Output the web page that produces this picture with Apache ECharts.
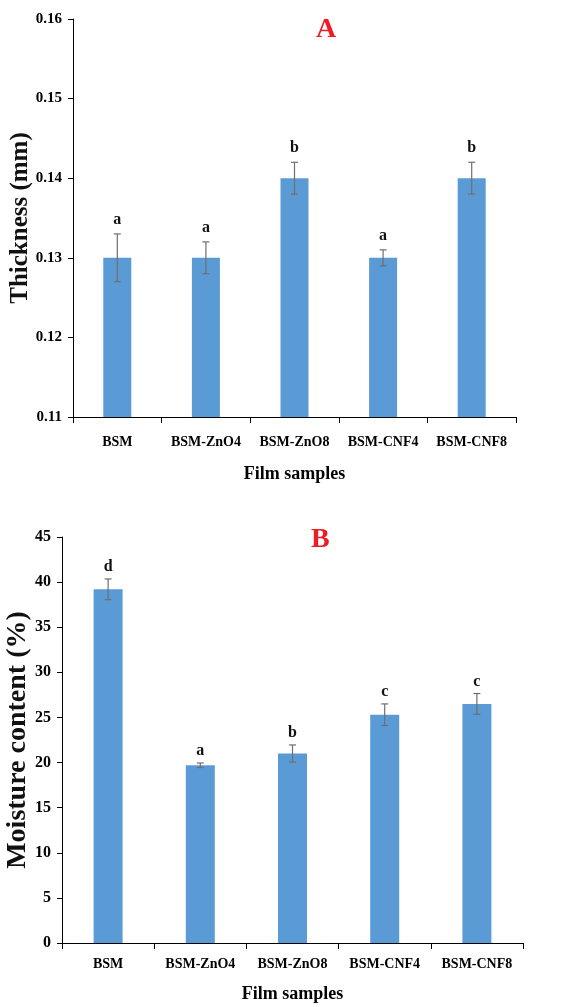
<!DOCTYPE html>
<html>
<head>
<meta charset="utf-8">
<script src="https://cdn.jsdelivr.net/npm/echarts@6/dist/echarts.min.js"></script>
<style>
html,body{margin:0;padding:0;background:#fff;}
#chart{width:585px;height:1007px;}
</style>
</head>
<body>
<div id="chart"></div>
<script>
const categories = ['BSM', 'BSM-ZnO4', 'BSM-ZnO8', 'BSM-CNF4', 'BSM-CNF8'];
const thickness = [0.130, 0.130, 0.140, 0.130, 0.140];
const thicknessErr = [0.003, 0.002, 0.002, 0.001, 0.002];
const thicknessLetters = ['a', 'a', 'b', 'a', 'b'];
const moisture = [39.2, 19.7, 21.0, 25.3, 26.5];
const moistureErr = [1.15, 0.25, 0.95, 1.2, 1.15];
const moistureLetters = ['d', 'a', 'b', 'c', 'c'];

const FONT = '"Liberation Serif", "Times New Roman", serif';
const BAR = '#5B9BD5';

function errSeries(gridIdx, vals, errs, letters, fontSize, gap) {
  return {
    type: 'custom',
    xAxisIndex: gridIdx,
    yAxisIndex: gridIdx,
    z: 5,
    encode: { x: 0, y: 1 },
    data: vals.map((v, i) => [i, v, errs[i]]),
    renderItem: function (params, api) {
      const x = api.value(0), v = api.value(1), e = api.value(2);
      const hi = api.coord([x, v + e]);
      const lo = api.coord([x, v - e]);
      const w = 3.5;
      const st = { stroke: '#6f6f6f', lineWidth: 1.2 };
      return {
        type: 'group',
        children: [
          { type: 'line', shape: { x1: hi[0], y1: hi[1], x2: lo[0], y2: lo[1] }, style: st },
          { type: 'line', shape: { x1: hi[0] - w, y1: hi[1], x2: hi[0] + w, y2: hi[1] }, style: st },
          { type: 'line', shape: { x1: lo[0] - w, y1: lo[1], x2: lo[0] + w, y2: lo[1] }, style: st },
          { type: 'text', style: { text: letters[params.dataIndex], x: hi[0], y: hi[1] - gap,
              align: 'center', verticalAlign: 'bottom',
              font: 'bold ' + fontSize + 'px ' + FONT, fill: '#111' } }
        ]
      };
    }
  };
}

const axisLabelStyle = (size) => ({ color: '#000', fontFamily: FONT, fontWeight: 'bold', fontSize: size });

const option = {
  backgroundColor: '#fff',
  animation: false,
  title: [
    { text: 'A', left: 311, top: 11, textStyle: { color: '#ee1c25', fontFamily: FONT, fontWeight: 'bold', fontSize: 28 } },
    { text: 'B', left: 306, top: 521, textStyle: { color: '#ee1c25', fontFamily: FONT, fontWeight: 'bold', fontSize: 28 } }
  ],
  grid: [
    { left: 73, right: 69, top: 19, height: 398, containLabel: false, outerBoundsMode: 'none' },
    { left: 62, right: 62, top: 537, height: 406, containLabel: false, outerBoundsMode: 'none' }
  ],
  xAxis: [
    {
      gridIndex: 0, type: 'category', data: categories,
      axisLine: { lineStyle: { color: '#000', width: 1 } },
      axisTick: { show: true, length: 6, lineStyle: { color: '#000' } },
      axisLabel: Object.assign({ margin: 18, interval: 0 }, axisLabelStyle(14)),
      name: 'Film samples', nameLocation: 'middle', nameGap: 48, nameMoveOverlap: false,
      nameTextStyle: { color: '#000', fontFamily: FONT, fontWeight: 'bold', fontSize: 18 }
    },
    {
      gridIndex: 1, type: 'category', data: categories,
      axisLine: { lineStyle: { color: '#000', width: 1 } },
      axisTick: { show: true, length: 6, lineStyle: { color: '#000' } },
      axisLabel: Object.assign({ margin: 14, interval: 0 }, axisLabelStyle(14)),
      name: 'Film samples', nameLocation: 'middle', nameGap: 42, nameMoveOverlap: false,
      nameTextStyle: { color: '#000', fontFamily: FONT, fontWeight: 'bold', fontSize: 18 }
    }
  ],
  yAxis: [
    {
      gridIndex: 0, type: 'value', min: 0.11, max: 0.16, interval: 0.01,
      splitLine: { show: false },
      axisLine: { show: true, lineStyle: { color: '#000', width: 1 } },
      axisTick: { show: true, length: 5, lineStyle: { color: '#000' } },
      axisLabel: Object.assign({ margin: 11, formatter: (v) => v.toFixed(2) }, axisLabelStyle(15)),
      name: 'Thickness (mm)', nameLocation: 'middle', nameGap: 40, nameRotate: 90, nameMoveOverlap: false,
      nameTextStyle: { color: '#111', fontFamily: FONT, fontWeight: 'bold', fontSize: 25 }
    },
    {
      gridIndex: 1, type: 'value', min: 0, max: 45, interval: 5,
      splitLine: { show: false },
      axisLine: { show: true, lineStyle: { color: '#000', width: 1 } },
      axisTick: { show: true, length: 5, lineStyle: { color: '#000' } },
      axisLabel: Object.assign({ margin: 11 }, axisLabelStyle(16)),
      name: 'Moisture content (%)', nameLocation: 'middle', nameGap: 30, nameRotate: 90, nameMoveOverlap: false,
      nameTextStyle: { color: '#111', fontFamily: FONT, fontWeight: 'bold', fontSize: 28 }
    }
  ],
  series: [
    { type: 'bar', xAxisIndex: 0, yAxisIndex: 0, data: thickness, barWidth: 28, clip: true,
      itemStyle: { color: BAR } },
    errSeries(0, thickness, thicknessErr, thicknessLetters, 16, 6),
    { type: 'bar', xAxisIndex: 1, yAxisIndex: 1, data: moisture, barWidth: 29, clip: true,
      itemStyle: { color: BAR } },
    errSeries(1, moisture, moistureErr, moistureLetters, 16, 4)
  ]
};

const chart = echarts.init(document.getElementById('chart'), null, { renderer: 'canvas' });
chart.setOption(option);
</script>
</body>
</html>
